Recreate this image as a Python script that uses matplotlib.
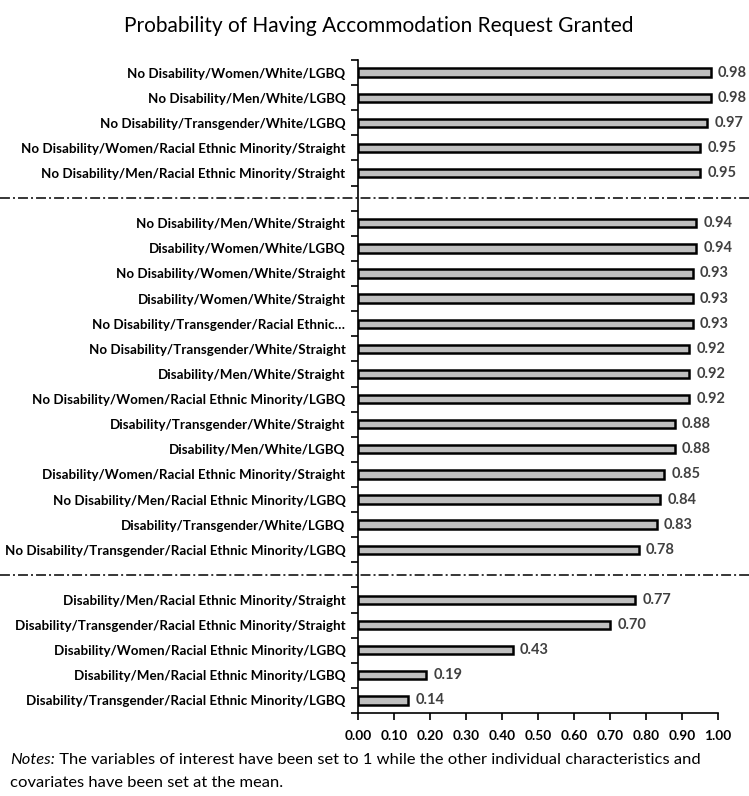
import matplotlib
matplotlib.use("Agg")
import matplotlib.pyplot as plt
import matplotlib.transforms as mtransforms
import numpy as np

plt.rcParams['font.family'] = ['Lato', 'DejaVu Sans']

title = "Probability of Having Accommodation Request Granted"

group1_labels = [
    "No Disability/Women/White/LGBQ",
    "No Disability/Men/White/LGBQ",
    "No Disability/Transgender/White/LGBQ",
    "No Disability/Women/Racial Ethnic Minority/Straight",
    "No Disability/Men/Racial Ethnic Minority/Straight",
]
group1_values = [0.98, 0.98, 0.97, 0.95, 0.95]

group2_labels = [
    "No Disability/Men/White/Straight",
    "Disability/Women/White/LGBQ",
    "No Disability/Women/White/Straight",
    "Disability/Women/White/Straight",
    "No Disability/Transgender/Racial Ethnic…",
    "No Disability/Transgender/White/Straight",
    "Disability/Men/White/Straight",
    "No Disability/Women/Racial Ethnic Minority/LGBQ",
    "Disability/Transgender/White/Straight",
    "Disability/Men/White/LGBQ",
    "Disability/Women/Racial Ethnic Minority/Straight",
    "No Disability/Men/Racial Ethnic Minority/LGBQ",
    "Disability/Transgender/White/LGBQ",
    "No Disability/Transgender/Racial Ethnic Minority/LGBQ",
]
group2_values = [0.94, 0.94, 0.93, 0.93, 0.93, 0.92, 0.92, 0.92, 0.88, 0.88, 0.85, 0.84, 0.83, 0.78]

group3_labels = [
    "Disability/Men/Racial Ethnic Minority/Straight",
    "Disability/Transgender/Racial Ethnic Minority/Straight",
    "Disability/Women/Racial Ethnic Minority/LGBQ",
    "Disability/Men/Racial Ethnic Minority/LGBQ",
    "Disability/Transgender/Racial Ethnic Minority/LGBQ",
]
group3_values = [0.77, 0.70, 0.43, 0.19, 0.14]

x_ticks = [0.0, 0.1, 0.2, 0.3, 0.4, 0.5, 0.6, 0.7, 0.8, 0.9, 1.0]

notes_italic = "Notes:"
notes_rest = " The variables of interest have been set to 1 while the other individual characteristics and"
notes_line2 = "covariates have been set at the mean."

groups = [(group1_labels, group1_values), (group2_labels, group2_values), (group3_labels, group3_values)]

# Build slot positions (top to bottom), with one empty slot between groups
labels, values, ypos, sep_pos = [], [], [], []
slot = 0
for gi, (labs, vals) in enumerate(groups):
    if gi > 0:
        sep_pos.append(slot)
        slot += 1
    for l, v in zip(labs, vals):
        labels.append(l)
        values.append(v)
        ypos.append(slot)
        slot += 1
n_slots = slot

fig = plt.figure(figsize=(7.49, 7.96), dpi=100)
ax = fig.add_axes([358/749, 1 - 713/796, (718-358)/749, (713-60)/796])

ax.barh(ypos, values, height=0.33, color='#BFBFBF', edgecolor='black', linewidth=1.8, zorder=3)
for y, v in zip(ypos, values):
    ax.text(v + 0.02, y, f"{v:.2f}", va='center', ha='left', fontsize=10.5,
            fontweight='bold', color='#404040')

ax.set_xlim(0, 1.0)
ax.set_ylim(n_slots - 0.5, -0.5)

ax.set_xticks(x_ticks)
ax.set_xticklabels([f"{t:.2f}" for t in x_ticks], fontsize=9.8, fontweight='bold')
ax.tick_params(axis='x', length=5, width=1.2, direction='out', pad=7)

boundaries = np.arange(n_slots + 1) - 0.5
ax.set_yticks(boundaries)
ax.set_yticklabels([])
ax.tick_params(axis='y', which='major', length=5, width=1.2, direction='out')
ax.set_yticks(ypos, minor=True)
ax.set_yticklabels(labels, minor=True, fontsize=9.6, fontweight='bold')
ax.tick_params(axis='y', which='minor', length=0, pad=9)

for s in ['top', 'right']:
    ax.spines[s].set_visible(False)
for s in ['left', 'bottom']:
    ax.spines[s].set_linewidth(1.2)

trans = mtransforms.blended_transform_factory(fig.transFigure, ax.transData)
for sp in sep_pos:
    ax.plot([0, 1], [sp, sp], transform=trans, color='black', linewidth=1.1,
            dashes=(6.5, 2, 1.3, 2), clip_on=False, zorder=5)

fig.text(379/749, 1 - 26/796, title, ha='center', va='center', fontsize=15)

fs_notes = 11.85
t1 = fig.text(10/749, 1 - 764/796, notes_italic, ha='left', va='baseline', fontsize=fs_notes, style='italic')
fig.canvas.draw()
r = fig.canvas.get_renderer()
bb = t1.get_window_extent(r)
fig.text(bb.x1 / fig.bbox.width, 1 - 764/796, notes_rest, ha='left', va='baseline', fontsize=fs_notes)
fig.text(10/749, 1 - 787/796, notes_line2, ha='left', va='baseline', fontsize=fs_notes)

fig.savefig("out.png", dpi=100)
